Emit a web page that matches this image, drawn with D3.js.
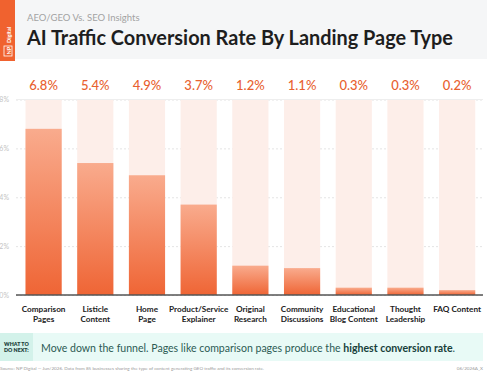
<html>
<head>
<script src="https://d3js.org/d3.v7.min.js"></script>
<style>
  body { margin: 0; background: white; }
  text { font-family: Lato, "Open Sans", sans-serif; }
  .grid line { stroke: #e4e4e4; stroke-dasharray: 2 2; }
  .grid .domain { stroke: none; }
  .grid text { fill: #c4c4c4; font-size: 7px; }
</style>
</head>
<body>
<svg id="chart" width="487" height="372"></svg>
<script>
// data
const categories = ["Comparison Pages", "Listicle Content", "Home Page", "Product/Service Explainer",
  "Original Research", "Community Discussions", "Educational Blog Content", "Thought Leadership", "FAQ Content"];
const labelLines = [["Comparison", "Pages"], ["Listicle", "Content"], ["Home", "Page"], ["Product/Service", "Explainer"],
  ["Original", "Research"], ["Community", "Discussions"], ["Educational", "Blog Content"], ["Thought", "Leadership"], ["FAQ Content"]];
const rates = [6.8, 5.4, 4.9, 3.7, 1.2, 1.1, 0.3, 0.3, 0.2];
const yTicks = [0, 2, 4, 6, 8];

const svg = d3.select("svg#chart");
const orange = "#f0622f";

// header
svg.append("rect").attr("x", 0).attr("y", 0).attr("width", 487).attr("height", 59).attr("fill", "#f5f6f7");
svg.append("rect").attr("x", 0).attr("y", 0).attr("width", 15).attr("height", 61).attr("fill", orange);
const logo = svg.append("g").attr("transform", "translate(10,56) rotate(-90)");
logo.append("rect").attr("x", 0).attr("y", -6).attr("width", 10).attr("height", 8)
    .attr("fill", "none").attr("stroke", "white").attr("stroke-width", 0.8);
logo.append("text").attr("x", 1.5).attr("y", 0.5).attr("fill", "white").attr("font-size", 5.5).attr("font-weight", 700).text("NP");
logo.append("text").attr("x", 13).attr("y", 0.5).attr("fill", "white").attr("font-size", 5.5).attr("font-weight", 700).text("Digital");

svg.append("text").attr("x", 27).attr("y", 21).attr("fill", "#a3a3a3").attr("font-size", 9.5)
   .text("AEO/GEO Vs. SEO Insights");
svg.append("text").attr("x", 27).attr("y", 45).attr("fill", "#1e1e1e").attr("font-size", 20).attr("font-weight", 700)
   .attr("textLength", 426).attr("lengthAdjust", "spacingAndGlyphs")
   .text("AI Traffic Conversion Rate By Landing Page Type");

// scales
const x = d3.scaleBand().domain(categories).range([17.75, 483]).paddingInner(0.3).paddingOuter(0.15);
const y = d3.scaleLinear().domain([0, 8]).range([295, 99.5]);

// gridlines + y labels
svg.append("g").attr("class", "grid").attr("transform", "translate(16,0)")
   .call(d3.axisLeft(y).tickValues(yTicks).tickSize(-467).tickFormat(d => d + "%"))
   .call(g => g.selectAll("text").attr("x", -7).attr("text-anchor", "end").attr("dx", 0));

// gradient
const grad = svg.append("defs").append("linearGradient").attr("id", "barGrad")
   .attr("x1", 0).attr("y1", 0).attr("x2", 0).attr("y2", 1);
grad.append("stop").attr("offset", "0%").attr("stop-color", "#f9ab8d");
grad.append("stop").attr("offset", "100%").attr("stop-color", "#ef6535");

// background bars
svg.append("g").selectAll("rect").data(categories).join("rect")
   .attr("x", d => x(d)).attr("width", x.bandwidth())
   .attr("y", y(8)).attr("height", y(0) - y(8))
   .attr("fill", "#fdeee9");

// value bars
svg.append("g").selectAll("rect").data(rates).join("rect")
   .attr("x", (d, i) => x(categories[i])).attr("width", x.bandwidth())
   .attr("y", d => y(d)).attr("height", d => y(0) - y(d))
   .attr("fill", "url(#barGrad)");

// top rule under value labels
svg.append("line").attr("x1", 16).attr("x2", 483).attr("y1", y(8)).attr("y2", y(8))
   .attr("stroke", "#eeeeee");

// baseline
svg.append("line").attr("x1", 16).attr("x2", 483).attr("y1", y(0)).attr("y2", y(0))
   .attr("stroke", "#555").attr("stroke-width", 1.3);

// value labels
svg.append("g").selectAll("text").data(rates).join("text")
   .attr("x", (d, i) => x(categories[i]) + x.bandwidth() / 2).attr("y", 90)
   .attr("text-anchor", "middle").attr("fill", "#e8612f").attr("font-size", 13).attr("font-weight", 500)
   .text(d => d.toFixed(1) + "%");

// category labels
svg.append("g").selectAll("text").data(labelLines).join("text")
   .attr("x", (d, i) => x(categories[i]) + x.bandwidth() / 2).attr("y", 312)
   .attr("text-anchor", "middle").attr("fill", "#222").attr("font-size", 8.2).attr("font-weight", 700)
   .each(function (lines) {
     d3.select(this).selectAll("tspan").data(lines).join("tspan")
       .attr("x", d3.select(this).attr("x")).attr("dy", (d, i) => i === 0 ? 0 : 10).text(d => d);
   });

// callout
svg.append("rect").attr("x", 0).attr("y", 333).attr("width", 483).attr("height", 28).attr("fill", "#e8faf6");
svg.append("rect").attr("x", 0).attr("y", 333).attr("width", 33).attr("height", 28).attr("fill", "#d3f2ea");
svg.append("text").attr("x", 4).attr("y", 345.5).attr("fill", "#1b3e3a").attr("font-size", 5.3).attr("font-weight", 800).text("WHAT TO");
svg.append("text").attr("x", 4).attr("y", 352).attr("fill", "#1b3e3a").attr("font-size", 5.3).attr("font-weight", 800).text("DO NEXT:");
const tip = svg.append("text").attr("x", 41).attr("y", 352).attr("fill", "#2c5a54").attr("font-size", 11.2);
tip.append("tspan").text("Move down the funnel. Pages like comparison pages produce the ");
tip.append("tspan").attr("font-weight", 700).attr("fill", "#173f3a").text("highest conversion rate");
tip.append("tspan").text(".");
// fit the sentence to the width seen in the picture
const tipW = tip.node().getComputedTextLength();
tip.attr("font-size", 11.2 * 414 / tipW);

// footer
svg.append("text").attr("x", 0).attr("y", 370).attr("fill", "#9a9a9a").attr("font-size", 4.6)
   .text("Source: NP Digital — Jun/2026. Data from 85 businesses sharing the type of content generating GEO traffic and its conversion rate.");
svg.append("text").attr("x", 483).attr("y", 370).attr("text-anchor", "end").attr("fill", "#9a9a9a").attr("font-size", 4.6)
   .text("06/2026A_X");
</script>
</body>
</html>
